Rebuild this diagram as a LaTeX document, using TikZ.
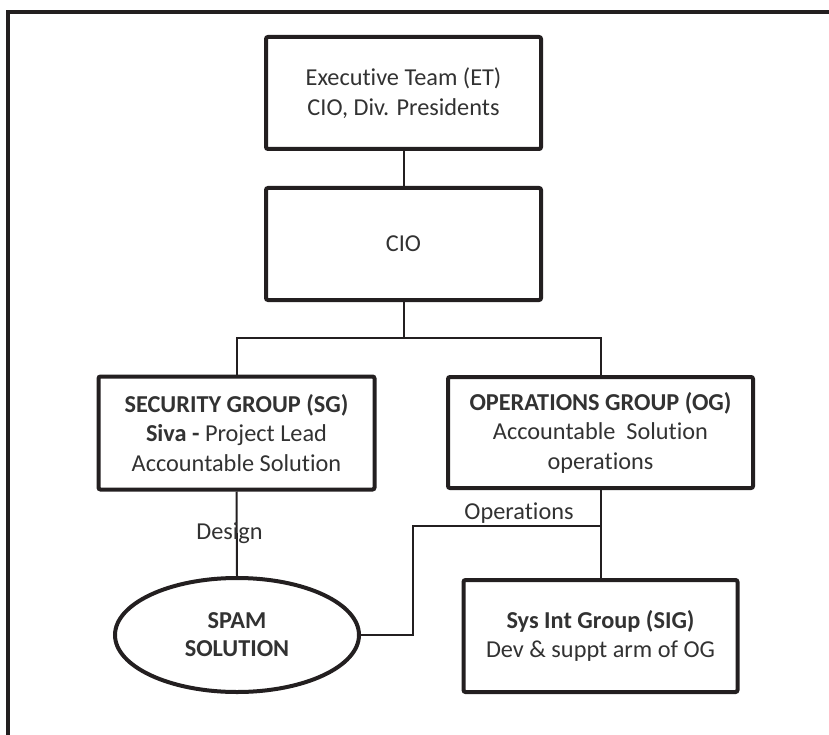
\documentclass[tikz,border=0pt]{standalone}
\usepackage{fontspec}
\setmainfont{Carlito}[Ligatures=NoCommon]
\usetikzlibrary{shapes.geometric}
\definecolor{ink}{RGB}{35,31,32}
\definecolor{txt}{RGB}{50,50,50}
\tikzset{
  orgbox/.style={draw=ink, line width=4pt, rounded corners=2pt, rectangle,
    align=center, text=txt, inner sep=0pt,
    font=\fontsize{24.3}{29.5}\selectfont},
  orgoval/.style={draw=ink, line width=4pt, ellipse, align=center, text=txt,
    inner sep=0pt, font=\fontsize{24.3}{28}\selectfont\bfseries},
  link/.style={draw=ink, line width=2pt},
  linklabel/.style={text=txt, inner sep=0pt, font=\fontsize{24.3}{28}\selectfont},
  frameline/.style={draw=ink, line width=4pt}
}
\begin{document}
\begin{tikzpicture}[x=1pt, y=-1pt]
\useasboundingbox (0,0) rectangle (829,735);

% outer frame (top and left edges)
\coordinate (frameBL) at (8,740);
\coordinate (frameTL) at (8,12);
\coordinate (frameTR) at (835,12);
\draw[frameline] (frameBL) -- (frameTL) -- (frameTR);

% boxes
\node[orgbox, minimum width=275pt, minimum height=112pt] (et) at (403.5,93)
  {Executive Team (ET)\\CIO, Div. Presidents};
\node[orgbox, minimum width=275pt, minimum height=112pt] (cio) at (403.5,244)
  {CIO};
\node[orgbox, minimum width=276pt, minimum height=113pt] (sg) at (236.5,433)
  {\textbf{SECURITY GROUP (SG)}\\\textbf{Siva -} Project Lead\\Accountable Solution};
\node[orgbox, minimum width=305pt, minimum height=111pt] (og) at (600.5,432.5)
  {\textbf{OPERATIONS GROUP (OG)}\\Accountable\ \ Solution\\operations};
\node[orgbox, minimum width=274pt, minimum height=112pt] (sig) at (600.5,636)
  {\textbf{Sys Int Group (SIG)}\\Dev \& suppt arm of OG};
\node[orgoval, minimum width=244pt, minimum height=114pt] (spam) at (237,635)
  {SPAM\\SOLUTION};

% connectors
\coordinate (bus) at (403.5,338);
\coordinate (opsjoin) at (600.5,526);
\coordinate (opsturn) at (413,635);
\draw[link] (et.south) -- (cio.north);
\draw[link] (cio.south) -- (bus);
\draw[link] (sg.north) |- (bus) -| (og.north);
\draw[link] (sg.south) -- (spam.north);
\draw[link] (og.south) -- (sig.north);
\draw[link] (spam.east) -- (opsturn) |- (opsjoin);

% connector labels
\node[linklabel] (design) at (229.5,533) {Design};
\node[linklabel] (ops) at (519,513) {Operations};
\end{tikzpicture}
\end{document}
